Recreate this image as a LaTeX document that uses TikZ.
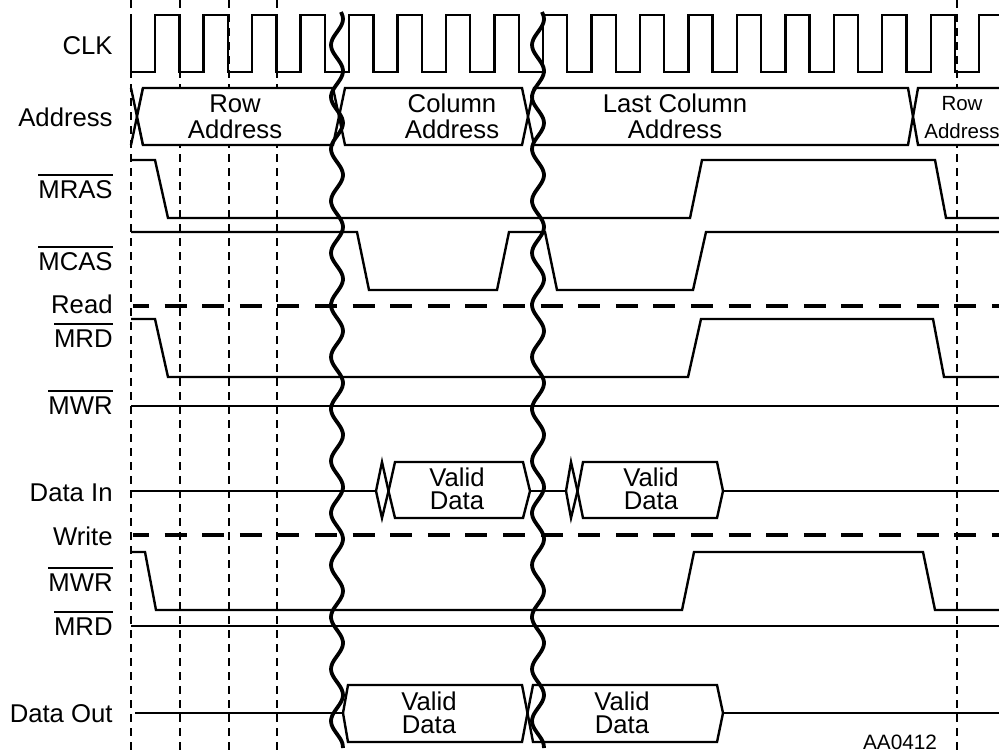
\documentclass[tikz,border=0pt]{standalone}
\usepackage{fontspec}
\setmainfont{Liberation Sans}
\newcommand\lowsig[1]{\setbox0=\hbox{#1}\rlap{\rule[\dimexpr\ht0+2.2pt\relax]{\wd0}{0.75pt}}\box0}

\begin{document}
\begin{tikzpicture}[x=0.5pt,y=-0.5pt,
  sig/.style={line width=1.2pt,line join=miter},
  bus/.style={line width=1.2pt,line join=miter,fill=white},
  grid/.style={line width=0.6pt,dash pattern=on 4pt off 3pt},
  mode/.style={line width=2.2pt,dash pattern=on 11pt off 7.8pt,dash phase=3pt},
  brk/.style={line width=1.9pt},
  lbl/.style={anchor=base east,inner sep=0pt,font=\fontsize{12.85}{13}\selectfont},
  bustxt/.style={anchor=base,align=center,inner sep=0pt,font=\fontsize{12.85}{13}\selectfont},
  datatxt/.style={anchor=base,align=center,inner sep=0pt,font=\fontsize{12.85}{11.2}\selectfont}]
\useasboundingbox (0,0) rectangle (999,752);
\clip (0,0) rectangle (999,752);

\foreach \xx in {131,180,229,277,957}
  \draw[grid] (\xx,0) -- (\xx,752);

\node (clk) [lbl] at (113,54) {CLK};
\node (addr) [lbl] at (113,126) {Address};
\node (mras) [lbl] at (113,198) {\lowsig{MRAS}};
\node (mcas) [lbl] at (113,270) {\lowsig{MCAS}};
\node (rd) [lbl] at (113,313) {Read};
\node (rdmrd) [lbl] at (113,347) {\lowsig{MRD}};
\node (rdmwr) [lbl] at (113,414) {\lowsig{MWR}};
\node (din) [lbl] at (113,501) {Data In};
\node (wr) [lbl] at (113,545) {Write};
\node (wrmwr) [lbl] at (113,591) {\lowsig{MWR}};
\node (wrmrd) [lbl] at (113,635) {\lowsig{MRD}};
\node (dout) [lbl] at (113,722) {Data Out};

\draw[sig] (131,15) \foreach \k in {0,...,17} { -- ++(0,57) -- ++(24.2,0) -- ++(0,-57) -- ++(24.27,0) };

\draw[sig] (131,88) -- (143,145);
\draw[sig] (131,145) -- (143,88);
\draw[bus] (137,116.5) -- (143,88) -- (333,88) -- (339,116.5) -- (333,145) -- (143,145) -- cycle;
\draw[bus] (339,116.5) -- (345,88) -- (522,88) -- (528,116.5) -- (522,145) -- (345,145) -- cycle;
\draw[bus] (528,116.5) -- (534,88) -- (908,88) -- (913,116.5) -- (908,145) -- (534,145) -- cycle;
\draw[bus] (1010,88) -- (918,88) -- (913,116.5) -- (918,145) -- (1010,145);
\node (rowa) [bustxt] at (235,138) {Row\\Address};
\node (cola) [bustxt] at (452,138) {Column\\Address};
\node (lasta) [bustxt] at (675,138) {Last Column\\Address};
\node (rowb) [bustxt,font=\fontsize{10.25}{14}\selectfont] at (962,138) {Row\\Address};

\draw[sig] (131,160) -- (155,160) -- (168,218) -- (690,218) -- (702,160) -- (935,160) -- (946,218) -- (999,218);
\draw[sig] (131,232) -- (357,232) -- (369,290) -- (497,290) -- (509,232) -- (545,232) -- (557,290) -- (693,290) -- (706,232) -- (999,232);
\draw[mode] (133,306) -- (999,306);
\draw[sig] (131,319) -- (155,319) -- (168,377) -- (688,377) -- (701,319) -- (933,319) -- (944,377) -- (999,377);
\draw[sig] (131,406) -- (999,406);

\draw[sig] (132,491) -- (376,491);
\draw[sig] (376,491) -- (382,462) -- (388.5,491) -- (382,518) -- cycle;
\draw[bus] (388.5,491) -- (395,462) -- (523,462) -- (530,491) -- (523,518) -- (395,518) -- cycle;
\draw[sig] (530,491) -- (566,491);
\draw[sig] (566,491) -- (571,462) -- (577.5,491) -- (571,518) -- cycle;
\draw[bus] (577.5,491) -- (583,462) -- (717,462) -- (723,491) -- (717,518) -- (583,518) -- cycle;
\draw[sig] (723,491) -- (999,491);
\node (vd1) [datatxt] at (457,509) {Valid\\Data};
\node (vd2) [datatxt] at (651,509) {Valid\\Data};

\draw[mode] (133,535) -- (999,535);
\draw[sig] (131,552) -- (145,552) -- (156,610) -- (682,610) -- (694,552) -- (923,552) -- (935,610) -- (999,610);
\draw[sig] (131,626) -- (999,626);

\draw[sig] (135,713) -- (343,713);
\draw[bus] (343,713) -- (348,685) -- (522,685) -- (527.5,713) -- (522,742) -- (348,742) -- cycle;
\draw[bus] (527.5,713) -- (533,685) -- (717,685) -- (723,713) -- (717,742) -- (533,742) -- cycle;
\draw[sig] (723,713) -- (999,713);
\node (vd3) [datatxt] at (429,733) {Valid\\Data};
\node (vd4) [datatxt] at (622,733) {Valid\\Data};

\draw[brk] plot[domain=12:748,samples=160,smooth] ({337-6*cos(((\x-253)/52)*360)},\x);
\draw[brk] plot[domain=12:748,samples=160,smooth] ({538-6*cos(((\x-253)/52)*360)},\x);

\node (fig) [anchor=base,inner sep=0pt,font=\fontsize{10.4}{12}\selectfont] at (900,749) {AA0412};
\end{tikzpicture}
\end{document}
